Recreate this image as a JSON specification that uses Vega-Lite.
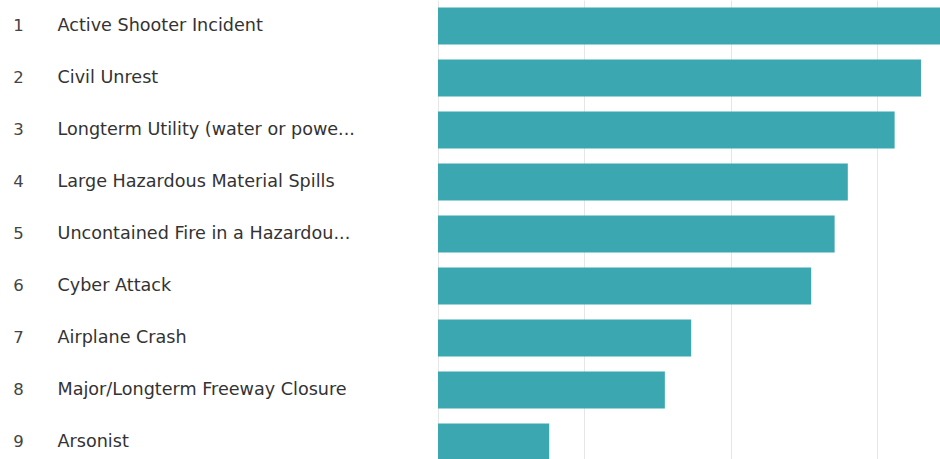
{
  "$schema": "https://vega.github.io/schema/vega-lite/v6.json",
  "autosize": {"type": "none"},
  "padding": {"left": 438, "top": 0, "right": 0, "bottom": 0},
  "width": 502,
  "height": 468,
  "background": "white",
  "config": {"view": {"stroke": null}},
  "data": {
    "values": [
      {"rank": 1, "name": "Active Shooter Incident", "score": 3.45},
      {"rank": 2, "name": "Civil Unrest", "score": 3.30},
      {"rank": 3, "name": "Longterm Utility (water or powe...", "score": 3.12},
      {"rank": 4, "name": "Large Hazardous Material Spills", "score": 2.80},
      {"rank": 5, "name": "Uncontained Fire in a Hazardou...", "score": 2.71},
      {"rank": 6, "name": "Cyber Attack", "score": 2.55},
      {"rank": 7, "name": "Airplane Crash", "score": 1.73},
      {"rank": 8, "name": "Major/Longterm Freeway Closure", "score": 1.55},
      {"rank": 9, "name": "Arsonist", "score": 0.76}
    ]
  },
  "layer": [
    {
      "mark": {"type": "bar", "color": "#3AA7B1", "clip": true},
      "encoding": {
        "y": {
          "field": "name", "type": "nominal", "sort": {"field": "rank"},
          "scale": {"paddingInner": 0.29, "paddingOuter": 0.145},
          "axis": {
            "orient": "left", "title": null, "domain": false, "ticks": false, "grid": false,
            "labelAlign": "left", "labelPadding": 381, "labelLimit": 0,
            "labelFont": "DejaVu Sans", "labelFontSize": 17.6, "labelColor": "#333333"
          }
        },
        "x": {
          "field": "score", "type": "quantitative",
          "scale": {"domain": [0, 3.43], "nice": false},
          "axis": {
            "title": null, "labels": false, "ticks": false, "domain": false,
            "values": [0, 1, 2, 3], "grid": true, "gridColor": "#E6E6E6", "gridWidth": 1
          }
        }
      }
    },
    {
      "mark": {"type": "bar", "opacity": 0},
      "encoding": {
        "y": {
          "field": "rank", "type": "ordinal",
          "scale": {"paddingInner": 0.29, "paddingOuter": 0.145},
          "axis": {
            "orient": "left", "title": null, "domain": false, "ticks": false, "grid": false,
            "labelAlign": "center", "labelPadding": 420,
            "labelFont": "DejaVu Sans", "labelFontSize": 16.5, "labelColor": "#444444"
          }
        },
        "x": {"datum": 0, "type": "quantitative"}
      }
    }
  ],
  "resolve": {"scale": {"y": "independent"}, "axis": {"y": "independent"}}
}
